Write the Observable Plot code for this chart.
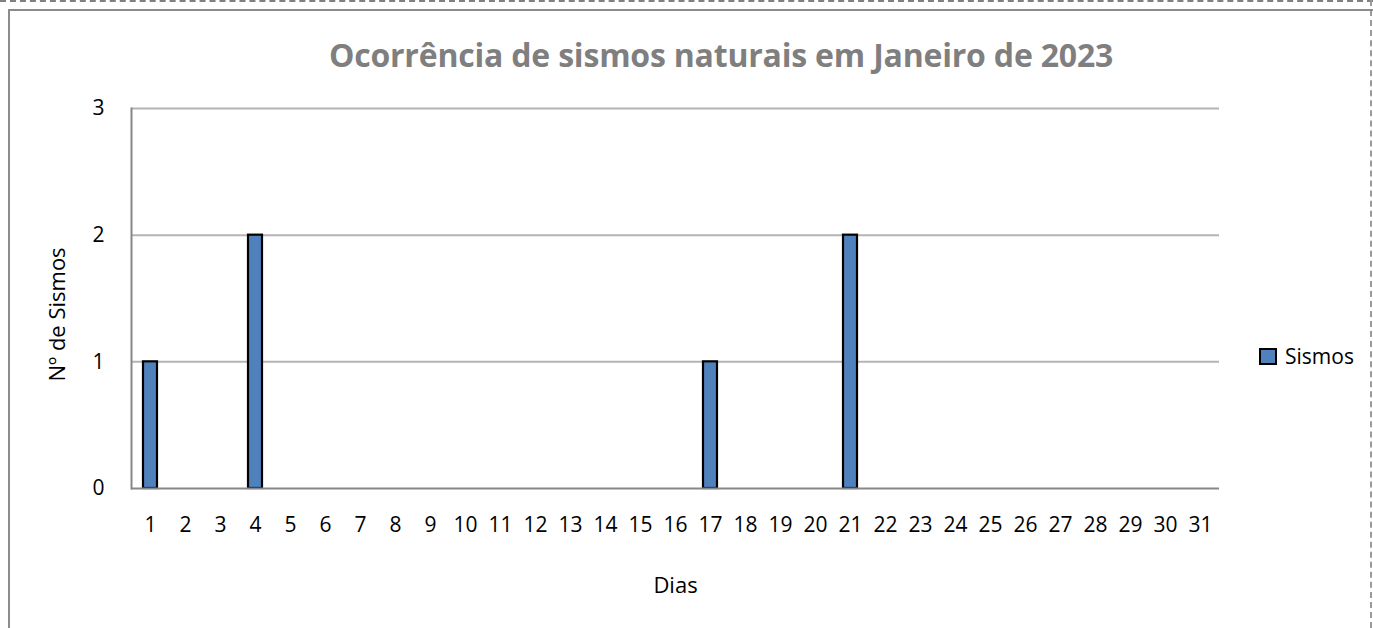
<!DOCTYPE html>
<html><head><meta charset="utf-8">
<script src="https://cdn.jsdelivr.net/npm/d3@7"></script>
<script src="https://cdn.jsdelivr.net/npm/@observablehq/plot@0.6"></script>
<style>
body{margin:0;background:#fff;width:1373px;height:628px;overflow:hidden;position:relative;font-family:"Open Sans",sans-serif}
#dash{position:absolute;left:0;top:0;width:1373px;border-top:2px dashed #808080;}
#dashR{position:absolute;left:1370px;top:0;height:628px;border-left:2px dashed #9a9a9a;}
#frame{position:absolute;left:8px;top:9px;width:1400px;height:700px;border:2px solid #8c8c8c;}
#chart{position:absolute;left:0;top:0}
#chart svg text{font-size:21px !important;font-family:"Open Sans",sans-serif}
#chart svg g[aria-label="x-axis label"] text,#chart svg .ylab text{font-size:22px !important}
#title{position:absolute;left:0;width:1442px;top:33px;text-align:center;font-weight:bold;font-size:32px;color:#7f7f7f;white-space:nowrap;letter-spacing:-0.2px}
#legend{position:absolute;left:1259px;top:342px;font-size:21px;color:#000;display:flex;align-items:center}
#legend span.sw{display:inline-block;width:14px;height:13px;background:#4F81BD;border:2px solid #000;margin-right:8px}
</style></head><body>
<div id="dash"></div><div id="dashR"></div><div id="frame"></div>
<div id="chart"></div>
<div id="title">Ocorrência de sismos naturais em Janeiro de 2023</div>
<div id="legend"><span class="sw"></span><span id="legtext">Sismos</span></div>
<script>
const days = ["1","2","3","4","5","6","7","8","9","10","11","12","13","14","15","16","17","18","19","20","21","22","23","24","25","26","27","28","29","30","31"];
const sismos = [1,0,0,2,0,0,0,0,0,0,0,0,0,0,0,0,1,0,0,0,2,0,0,0,0,0,0,0,0,0,0];
const yTicks = [0,1,2,3];
const seriesName = "Sismos";
const xTitle = "Dias";
const yTitle = "Nº de Sismos";

const data = days.map((d,i)=>({day:d, value:sismos[i]}));
const bars = data.filter(d=>d.value>0);

const chart = Plot.plot({
  width:1373, height:628,
  marginLeft:131, marginRight:154, marginTop:108, marginBottom:140,
  style:{fontFamily:"'Open Sans',sans-serif", color:"#000", background:"transparent"},
  x:{type:"band", domain:days, paddingInner:0.59, paddingOuter:0.295, label:null},
  y:{domain:[0,3], label:null},
  marks:[
    Plot.gridY(yTicks.filter(t=>t>0), {stroke:"#b4b4b4", strokeOpacity:1, strokeWidth:2}),
    Plot.barY(bars, {x:"day", y:"value", fill:"#4F81BD", stroke:"#000", strokeWidth:2.2}),
    Plot.ruleY([0], {stroke:"#878787", strokeWidth:2}),
    Plot.frame({anchor:"left", stroke:"#878787", strokeWidth:2}),
    Plot.axisY({ticks:yTicks, tickSize:0, tickPadding:27, tickFormat:d=>String(d), label:null}),
    Plot.text([yTitle], {frameAnchor:"left", textAnchor:"middle", rotate:-90, dx:-74, dy:16, fill:"#000", className:"ylab"}),
    Plot.axisX({tickSize:0, tickPadding:29, label:xTitle, labelAnchor:"center", labelArrow:"none", labelOffset:104})
  ]
});
document.getElementById("chart").appendChild(chart);
document.getElementById("legtext").textContent = seriesName;
</script>
</body></html>
